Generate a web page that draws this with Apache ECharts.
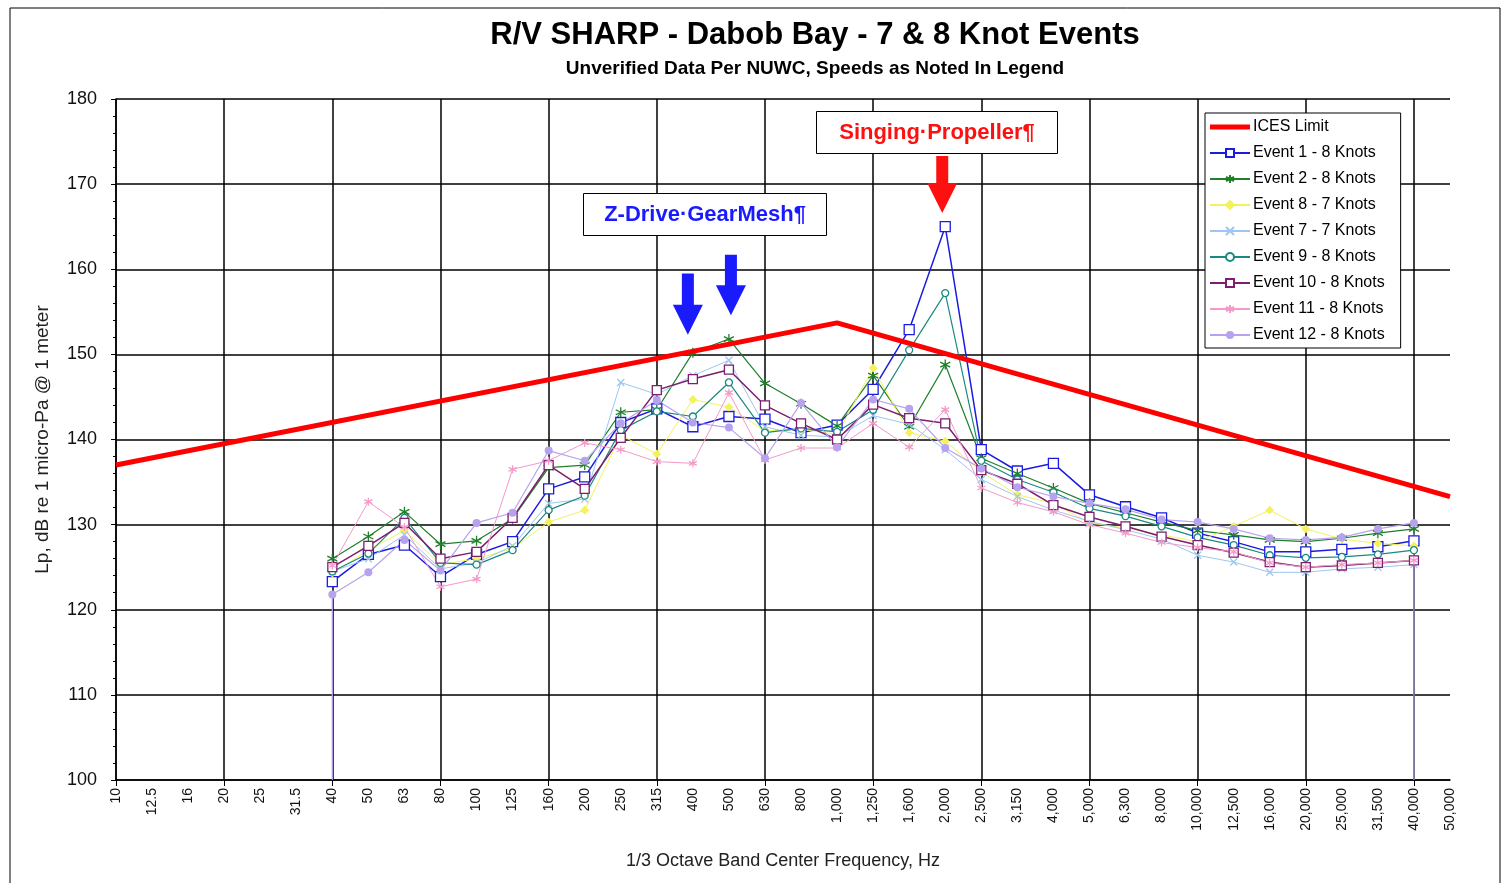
<!DOCTYPE html>
<html>
<head>
<meta charset="utf-8">
<title>R/V SHARP - Dabob Bay - 7 & 8 Knot Events</title>
<script src="https://cdn.jsdelivr.net/npm/echarts@6/dist/echarts.min.js"></script>
<style>
    html, body { margin: 0; padding: 0; background: #fff; }
    #main { width: 1507px; height: 883px; }
</style>
</head>
<body>
<div id="main"></div>
<script type="text/javascript">
    // 1/3 octave band centre frequencies (category axis)
    var freqLabels = ['10', '12.5', '16', '20', '25', '31.5', '40', '50', '63', '80', '100', '125', '160', '200',
        '250', '315', '400', '500', '630', '800', '1,000', '1,250', '1,600', '2,000', '2,500', '3,150', '4,000',
        '5,000', '6,300', '8,000', '10,000', '12,500', '16,000', '20,000', '25,000', '31,500', '40,000', '50,000'];

    // ICES limit break points
    var icesFreqs = ['10', '1,000', '50,000'];
    var icesLimit = [137.0, 153.7, 133.3];

    // measured events, 40 Hz .. 40,000 Hz
    var eventFreqs = freqLabels.slice(6, 37);
    var event1 = [123.3, 126.5, 127.6, 123.9, 126.5, 128.0, 134.2, 135.6, 142.0, 143.6,
        141.5, 142.7, 142.4, 140.8, 141.7, 145.9, 152.9, 165.0, 138.8, 136.3,
        137.2, 133.5, 132.1, 130.8, 129.0, 128.0, 126.8, 126.8, 127.1, 127.4, 128.1];
    var event2 = [126.0, 128.6, 131.5, 127.7, 128.1, 130.7, 136.7, 137.0, 143.2, 143.5,
        150.2, 151.8, 146.6, 144.2, 141.6, 147.5, 141.5, 148.8, 137.8, 136.0,
        134.3, 132.5, 131.4, 130.3, 129.3, 128.8, 128.2, 128.0, 128.4, 129.0, 129.5];
    var event8 = [124.3, 127.0, 129.3, 125.3, 126.0, 127.2, 130.3, 131.7, 140.5, 138.3,
        144.7, 143.8, 141.0, 141.2, 140.6, 148.4, 140.8, 139.8, 136.2, 133.5,
        132.5, 130.2, 129.6, 128.8, 128.0, 129.8, 131.7, 129.5, 128.3, 127.8, 127.5];
    var event7 = [124.5, 126.0, 128.8, 124.8, 125.5, 127.5, 132.5, 133.0, 146.7, 145.3,
        147.5, 149.3, 141.5, 140.5, 140.3, 142.8, 141.8, 138.8, 135.3, 133.3,
        131.7, 130.4, 129.4, 128.3, 126.4, 125.6, 124.4, 124.4, 124.8, 125.0, 125.3];
    var event9 = [124.5, 126.6, 130.8, 125.5, 125.3, 127.0, 131.7, 133.4, 141.1, 143.3,
        142.7, 146.7, 140.8, 141.3, 140.9, 143.5, 150.5, 157.2, 137.5, 135.3,
        133.8, 131.9, 131.0, 129.8, 128.5, 127.6, 126.4, 126.1, 126.2, 126.5, 127.0];
    var event10 = [125.0, 127.5, 130.2, 126.0, 126.8, 130.8, 137.0, 134.2, 140.2, 145.8,
        147.1, 148.2, 144.0, 141.9, 140.0, 144.1, 142.5, 141.9, 136.4, 134.8,
        132.3, 130.9, 129.8, 128.6, 127.6, 126.7, 125.6, 125.0, 125.2, 125.5, 125.8];
    var event11 = [125.2, 132.7, 129.7, 122.7, 123.6, 136.5, 137.5, 139.6, 138.8, 137.4,
        137.2, 145.5, 137.6, 139.0, 139.0, 141.9, 139.1, 143.5, 134.3, 132.6,
        131.5, 130.0, 129.0, 127.9, 127.3, 126.8, 125.5, 125.0, 125.3, 125.5, 125.8];
    var event12 = [121.8, 124.4, 128.2, 124.6, 130.2, 131.4, 138.7, 137.5, 141.9, 144.6,
        142.0, 141.4, 137.8, 144.3, 139.1, 144.7, 143.6, 139.0, 136.6, 134.4,
        133.3, 132.5, 131.8, 130.6, 130.3, 129.5, 128.4, 128.2, 128.5, 129.5, 130.2];

    var legendNames = ['ICES Limit', 'Event 1 - 8 Knots', 'Event 2 - 8 Knots', 'Event 8 - 7 Knots',
        'Event 7 - 7 Knots', 'Event 9 - 8 Knots', 'Event 10 - 8 Knots', 'Event 11 - 8 Knots', 'Event 12 - 8 Knots'];

    function pairs(freqs, values) {
        return values.map(function (v, i) { return [freqs[i], v]; });
    }

    var asterisk = 'path://M5,0L5,10M0.7,2.5L9.3,7.5M0.7,7.5L9.3,2.5';
    var cross = 'path://M0,0L10,10M0,10L10,0';
    var font = 'Liberation Sans';

    function eventSeries(name, values, color, symbol, size, width, filled) {
        return {
            name: name,
            type: 'line',
            data: pairs(eventFreqs, values),
            symbol: symbol,
            symbolSize: size,
            showAllSymbol: true,
            lineStyle: {color: color, width: width},
            itemStyle: {color: filled ? color : '#fff', borderColor: color, borderWidth: 1.3},
            emphasis: {disabled: true},
            z: 3
        };
    }

    // Event 12 also drops to the axis at both ends
    var e12data = pairs(eventFreqs, event12);
    e12data.unshift({value: ['40', 100], symbol: 'none'});
    e12data.push({value: ['40,000', 100], symbol: 'none'});

    var legendData = legendNames.map(function (n, i) {
        return i === 0 ? {name: n, icon: 'path://M0,0L40,0L40,5L0,5Z'} : {name: n};
    });

    var chart = echarts.init(document.getElementById('main'));

    var option = {
        backgroundColor: '#fff',
        animation: false,
        textStyle: {fontFamily: font},
        title: {
            text: 'R/V SHARP - Dabob Bay - 7 & 8 Knot Events',
            subtext: 'Unverified Data Per NUWC, Speeds as Noted In Legend',
            left: 810,
            textAlign: 'center',
            top: 15,
            itemGap: 8,
            textStyle: {fontFamily: font, fontSize: 31, fontWeight: 'bold', color: '#000'},
            subtextStyle: {fontFamily: font, fontSize: 19, fontWeight: 'bold', color: '#000'}
        },
        legend: {
            data: legendData,
            orient: 'vertical',
            left: 1205,
            top: 113,
            padding: [6, 16, 5, 4],
            itemGap: 10,
            itemWidth: 40,
            itemHeight: 10,
            backgroundColor: '#fff',
            borderColor: '#000',
            borderWidth: 1,
            textStyle: {fontFamily: font, fontSize: 16, color: '#000', padding: [0, 0, 0, -2]},
            selectedMode: false
        },
        grid: {left: 116, right: 57, top: 99, bottom: 103},
        xAxis: {
            type: 'category',
            data: freqLabels,
            boundaryGap: false,
            name: '1/3 Octave Band Center Frequency, Hz',
            nameLocation: 'middle',
            nameGap: 72,
            nameTextStyle: {fontFamily: font, fontSize: 18, color: '#222'},
            axisLine: {lineStyle: {color: '#000', width: 1.5}},
            axisTick: {
                length: 6,
                lineStyle: {color: '#000'},
                interval: function (idx) { return idx % 3 === 0; }
            },
            axisLabel: {rotate: 90, interval: 0, fontSize: 14, color: '#111', margin: 8},
            splitLine: {
                show: true,
                interval: function (idx) { return idx % 3 === 0; },
                lineStyle: {color: '#000', width: 1.5}
            }
        },
        yAxis: {
            type: 'value',
            min: 100,
            max: 180,
            interval: 10,
            name: 'Lp, dB re 1 micro-Pa @ 1 meter',
            nameLocation: 'middle',
            nameGap: 64,
            nameTextStyle: {fontFamily: font, fontSize: 19, color: '#222'},
            axisLine: {show: true, lineStyle: {color: '#000', width: 1.5}},
            axisTick: {show: true, length: 5, lineStyle: {color: '#000'}},
            minorTick: {show: true, splitNumber: 5, length: 3, lineStyle: {color: '#000'}},
            axisLabel: {fontSize: 18, color: '#111', margin: 19},
            splitLine: {lineStyle: {color: '#000', width: 1.5}}
        },
        series: [
            eventSeries('Event 1 - 8 Knots', event1, '#1c1ce0', 'rect', 10, 1.5, false),
            eventSeries('Event 2 - 8 Knots', event2, '#1f7f2a', asterisk, 10, 1.2, true),
            eventSeries('Event 8 - 7 Knots', event8, '#f4f25c', 'diamond', 7, 1, true),
            eventSeries('Event 7 - 7 Knots', event7, '#9ec6f0', cross, 7, 1, true),
            eventSeries('Event 9 - 8 Knots', event9, '#1a8a80', 'circle', 7, 1.2, false),
            eventSeries('Event 10 - 8 Knots', event10, '#7b1f6e', 'rect', 9, 1.5, false),
            eventSeries('Event 11 - 8 Knots', event11, '#f49ac8', asterisk, 8, 1, true),
            {
                name: 'Event 12 - 8 Knots',
                type: 'line',
                data: e12data,
                symbol: 'circle',
                symbolSize: 8,
                showAllSymbol: true,
                lineStyle: {color: '#b7a2ee', width: 1.2},
                itemStyle: {color: '#b7a2ee'},
                emphasis: {disabled: true},
                z: 3
            },
            {
                name: 'ICES Limit',
                type: 'line',
                data: pairs(icesFreqs, icesLimit),
                symbol: 'none',
                lineStyle: {color: '#ff0000', width: 5},
                itemStyle: {color: '#ff0000'},
                emphasis: {disabled: true},
                z: 4
            }
        ]
    };
    chart.setOption(option);

    // arrows anchored on the chart scale
    function arrow(cat, top, tip, color, dx) {
        var a = chart.convertToPixel({gridIndex: 0}, [cat, top]);
        var b = chart.convertToPixel({gridIndex: 0}, [cat, tip]);
        var x = a[0] + dx, y0 = a[1], y1 = b[1];
        var headStart = y1 - 30;
        return {
            type: 'polygon',
            shape: {points: [[x - 6, y0], [x + 6, y0], [x + 6, headStart], [x + 15, headStart],
                [x, y1], [x - 15, headStart], [x - 6, headStart]]},
            style: {fill: color},
            z: 10
        };
    }

    function noteBox(left, top, width, height, text, color) {
        return {
            type: 'group',
            left: left,
            top: top,
            z: 10,
            children: [
                {type: 'rect', shape: {x: 0, y: 0, width: width, height: height},
                    style: {fill: '#fff', stroke: '#000', lineWidth: 1}},
                {type: 'text', x: width / 2, y: height / 2,
                    style: {text: text, fill: color, font: 'bold 22px "Liberation Sans"',
                        align: 'center', verticalAlign: 'middle'}}
            ]
        };
    }

    chart.setOption({
        graphic: [
            {type: 'rect', shape: {x: 10, y: 8, width: 1490, height: 890},
                style: {fill: 'none', stroke: '#000', lineWidth: 1}, z: -1, silent: true},
            noteBox(816, 111, 241, 42, 'Singing·Propeller¶', '#ff1010'),
            noteBox(583, 193, 243, 42, 'Z-Drive·GearMesh¶', '#1a1aff'),
            arrow('2,000', 173.3, 166.6, '#ff1010', -3),
            arrow('400', 159.5, 152.3, '#1a1aff', -5),
            arrow('500', 161.7, 154.6, '#1a1aff', 2)
        ]
    });
</script>
</body>
</html>
